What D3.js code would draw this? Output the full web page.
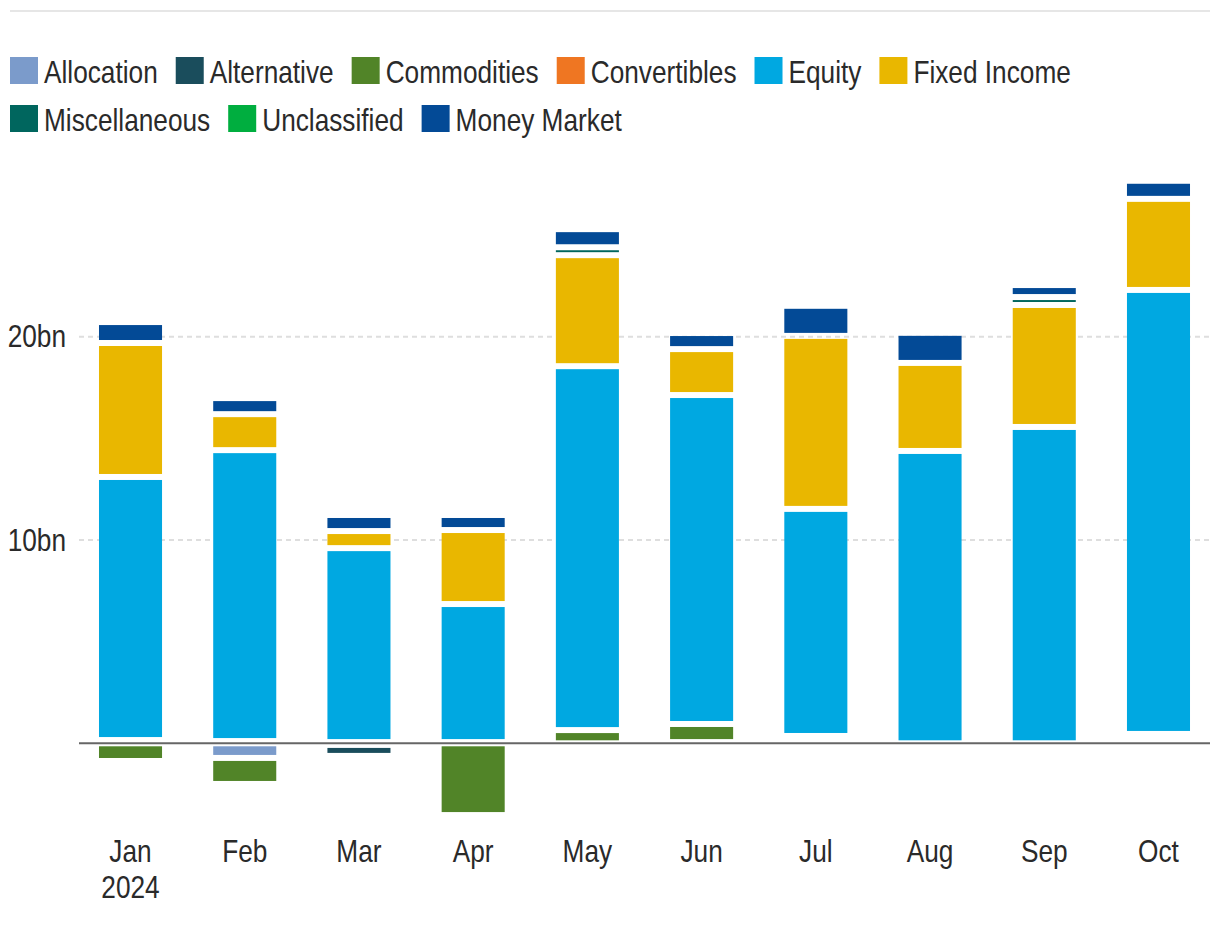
<!DOCTYPE html>
<html><head><meta charset="utf-8">
<script src="https://cdn.jsdelivr.net/npm/d3@7"></script>
<style>html,body{margin:0;padding:0;background:#fff;}svg{display:block;}</style>
</head><body>
<svg id="chart" width="1220" height="930"></svg>
<script>
const months = ["Jan","Feb","Mar","Apr","May","Jun","Jul","Aug","Sep","Oct"];
const seriesNames = ["Allocation","Alternative","Commodities","Convertibles","Equity","Fixed Income","Miscellaneous","Unclassified","Money Market"];
const seriesColors = ["#7b9bcb","#1a4d5c","#518428","#ef7622","#00a8e1","#e9b700","#00665e","#00ae3f","#034a96"];
const allocation   = [0, -0.72, -0.08, 0, 0, 0, 0, 0, 0, 0];
const alternative  = [0, 0, -0.54, 0, 0, 0.06, 0, 0, 0, 0];
const commodities  = [-0.87, -1.28, 0, -3.53, 0.65, 0.89, 0.20, 0, 0, 0.25];
const convertibles = [0.16, 0.11, 0.06, 0.06, 0, 0, 0.16, 0, 0, 0.21];
const equity       = [12.94, 14.31, 9.54, 6.79, 17.90, 16.18, 11.17, 14.38, 15.56, 21.84];
const fixedIncome  = [6.59, 1.77, 0.84, 3.64, 5.46, 2.26, 8.51, 4.33, 6.00, 4.48];
const miscellaneous= [0, 0, 0, 0, 0.39, 0, 0, 0, 0.39, 0];
const unclassified = [0, 0, 0, 0, 0, 0, 0, 0, 0, 0];
const moneyMarket  = [1.03, 0.79, 0.79, 0.74, 0.89, 0.79, 1.48, 1.48, 0.59, 0.89];
const yTicks = [10, 20];
const yearLabel = "2024";

const seriesValues = [allocation, alternative, commodities, convertibles, equity, fixedIncome, miscellaneous, unclassified, moneyMarket];
const table = months.map((m, i) => {
  const row = {month: m};
  seriesNames.forEach((s, k) => row[s] = seriesValues[k][i]);
  return row;
});

const svg = d3.select("#chart");
const textColor = "#2a2a2a";
const fs = 32;

// font detection: prefer a narrow face, else squeeze regular
let fam = "'Liberation Sans Narrow'", sx = 1;
{
  const t = svg.append("text").style("font-family", fam).style("font-size", fs + "px").text("Allocation");
  const w = t.node().getComputedTextLength(); t.remove();
  if (!(w > 90 && w < 125)) { fam = "'Liberation Sans', Arial, sans-serif"; sx = 0.82; }
}

const left = 79, right = 1210;
const x = d3.scaleBand().domain(months).range([left, right]).paddingInner(0.448).paddingOuter(0.175);
const y = d3.scaleLinear().domain([-4, 28]).range([743.3 + 4 * 20.33, 743.3 - 28 * 20.33]);

// top rule
svg.append("line").attr("x1", 10).attr("x2", 1210).attr("y1", 11).attr("y2", 11)
  .attr("stroke", "#e6e6e6").attr("stroke-width", 2);

// gridlines
svg.append("g").selectAll("line").data(yTicks).join("line")
  .attr("x1", left).attr("x2", right)
  .attr("y1", d => y(d)).attr("y2", d => y(d))
  .attr("stroke", "#dedede").attr("stroke-width", 2).attr("stroke-dasharray", "5,4");

// y axis labels
const yAxis = svg.append("g").attr("transform", `translate(${left},0)`)
  .call(d3.axisLeft(y).tickValues(yTicks).tickSize(0).tickPadding(13).tickFormat(d => d + "bn"));
yAxis.select(".domain").remove();
yAxis.selectAll("text").style("font-family", fam).style("font-size", fs + "px").attr("fill", textColor)
  .attr("x", -13 / sx).attr("transform", `scale(${sx},1)`);

// stacked bars
const stack = d3.stack().keys(seriesNames).offset(d3.stackOffsetDiverging);
const stacked = stack(table);
const inset = 3;
svg.append("g").selectAll("g").data(stacked).join("g")
  .attr("fill", (d, i) => seriesColors[i])
  .selectAll("rect").data(d => d).join("rect")
  .attr("x", d => x(d.data.month))
  .attr("width", x.bandwidth())
  .attr("y", d => y(Math.max(d[0], d[1])) + inset)
  .attr("height", d => Math.max(0, Math.abs(y(d[0]) - y(d[1])) - 2 * inset));

// zero line
svg.append("line").attr("x1", left).attr("x2", right).attr("y1", y(0)).attr("y2", y(0))
  .attr("stroke", "#666").attr("stroke-width", 2);

// x axis
const xAxis = svg.append("g").attr("transform", `translate(0,${y(0)})`)
  .call(d3.axisBottom(x).tickSize(0).tickPadding(96));
xAxis.select(".domain").remove();
xAxis.selectAll("text").style("font-family", fam).style("font-size", fs + "px").attr("fill", textColor)
  .attr("transform", `scale(${sx},1)`);
xAxis.selectAll(".tick").filter(d => d === months[0]).select("text")
  .append("tspan").attr("x", 0).attr("dy", "1.13em").text(yearLabel);

// legend
const legend = svg.append("g");
let lx = 10, ly = 57;
const sw = 28, sh = 27, gapText = 6, gapItem = 18, rowH = 48;
seriesNames.forEach((name, i) => {
  const g = legend.append("g");
  g.append("rect").attr("width", sw).attr("height", sh).attr("fill", seriesColors[i]);
  const t = g.append("text").attr("x", (sw + gapText) / sx).attr("y", sh - 1)
    .attr("transform", `scale(${sx},1)`)
    .style("font-family", fam).style("font-size", fs + "px").attr("fill", textColor).text(name);
  const w = sw + gapText + t.node().getComputedTextLength() * sx;
  if (lx + w > right) { lx = 10; ly += rowH; }
  g.attr("transform", `translate(${lx},${ly})`);
  lx += w + gapItem;
});
</script>
</body></html>
